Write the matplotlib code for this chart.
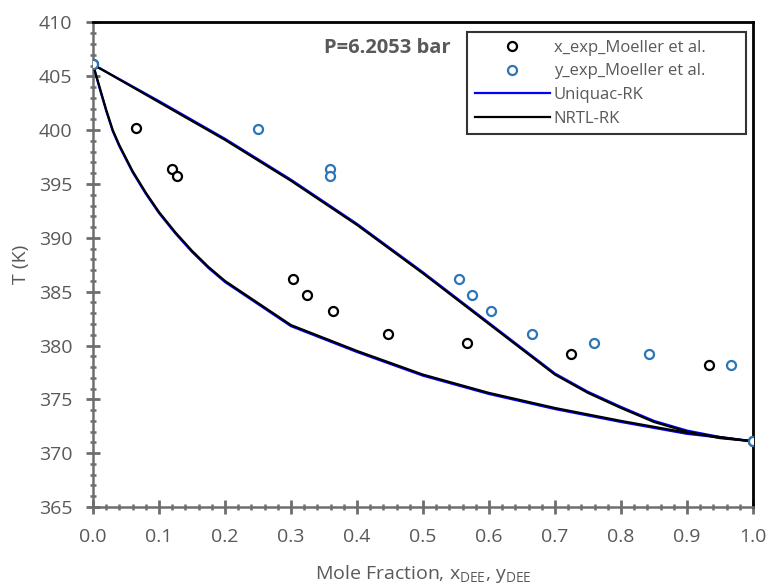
import matplotlib.pyplot as plt
from matplotlib.ticker import MultipleLocator

GRAY_TEXT = "#595959"
GRAY_AXIS = "#6E6E6E"
BLUE_PT = "#2E75B6"

plt.rcParams['font.family'] = ['Open Sans', 'DejaVu Sans']
plt.rcParams['mathtext.fontset'] = 'custom'
plt.rcParams['mathtext.rm'] = 'Open Sans'
plt.rcParams['mathtext.it'] = 'Open Sans'

# Excel-style ticks crossing the axis line (set before the axes exist)
for a in ["xtick", "ytick"]:
    plt.rcParams[a + ".direction"] = "inout"
    plt.rcParams[a + ".major.size"] = 10
    plt.rcParams[a + ".minor.size"] = 5
    plt.rcParams[a + ".major.width"] = 2
    plt.rcParams[a + ".minor.width"] = 1.8
    plt.rcParams[a + ".color"] = GRAY_AXIS
    plt.rcParams[a + ".labelcolor"] = GRAY_TEXT
    plt.rcParams[a + ".labelsize"] = 14
    plt.rcParams[a + ".major.pad"] = 10
    plt.rcParams[a + ".minor.visible"] = True

# --- experimental data (Moeller et al.) ---
x_exp = [0.0, 0.065, 0.120, 0.127, 0.303, 0.324, 0.363, 0.447, 0.566, 0.724, 0.934, 1.0]
T_x_exp = [406.1, 400.2, 396.4, 395.7, 386.2, 384.7, 383.2, 381.1, 380.2, 379.2, 378.2, 371.1]
y_exp = [0.0, 0.250, 0.359, 0.359, 0.555, 0.575, 0.603, 0.665, 0.759, 0.842, 0.967, 1.0]
T_y_exp = [406.1, 400.1, 396.4, 395.7, 386.2, 384.7, 383.2, 381.1, 380.2, 379.2, 378.2, 371.1]

# --- model curves ---
x_bub = [0.0, 0.01, 0.02, 0.03, 0.04, 0.06, 0.08, 0.10, 0.125, 0.15, 0.175, 0.20,
         0.30, 0.40, 0.50, 0.60, 0.70, 0.80, 0.90, 1.0]
T_bub_nrtl = [406.1, 404.0, 401.9, 400.0, 398.6, 396.2, 394.2, 392.4, 390.5, 388.8, 387.3, 386.0,
              381.9, 379.5, 377.3, 375.6, 374.2, 373.0, 371.9, 371.1]
T_bub_uniq = [406.1, 403.9, 401.8, 399.9, 398.5, 396.1, 394.1, 392.3, 390.4, 388.7, 387.2, 385.9,
              381.8, 379.4, 377.2, 375.5, 374.1, 372.9, 371.8, 371.1]

x_dew = [0.0, 0.1, 0.2, 0.3, 0.4, 0.5, 0.6, 0.7, 0.75, 0.8, 0.85, 0.9, 0.95, 1.0]
T_dew_nrtl = [406.1, 402.6, 399.1, 395.3, 391.2, 386.7, 382.0, 377.3, 375.6, 374.2, 372.9, 372.0, 371.4, 371.1]
T_dew_uniq = [406.1, 402.7, 399.2, 395.4, 391.3, 386.8, 382.1, 377.4, 375.7, 374.3, 373.0, 372.1, 371.5, 371.1]

fig = plt.figure(figsize=(7.69, 5.84), dpi=100)
ax = fig.add_axes([0.1209, 0.1318, 0.8582, 0.8297])

# model lines: Uniquac (blue) underneath, NRTL (black) on top
ax.plot(x_bub, T_bub_uniq, color="#0000FF", lw=1.6, zorder=2, label="Uniquac-RK")
ax.plot(x_dew, T_dew_uniq, color="#0000FF", lw=1.6, zorder=2)
ax.plot(x_bub, T_bub_nrtl, color="black", lw=1.6, zorder=3, label="NRTL-RK")
ax.plot(x_dew, T_dew_nrtl, color="black", lw=1.6, zorder=3)

# experimental points
ax.plot(x_exp, T_x_exp, ls="none", marker="o", ms=6.5, mfc="white", mec="black",
        mew=1.6, zorder=4, label="x_exp_Moeller et al.")
ax.plot(y_exp, T_y_exp, ls="none", marker="o", ms=6.5, mfc="white", mec=BLUE_PT,
        mew=1.6, zorder=5, label="y_exp_Moeller et al.")

ax.set_xlim(0, 1)
ax.set_ylim(365, 410)
ax.xaxis.set_major_locator(MultipleLocator(0.1))
ax.xaxis.set_minor_locator(MultipleLocator(0.02))
ax.yaxis.set_major_locator(MultipleLocator(5))
ax.yaxis.set_minor_locator(MultipleLocator(1))
ax.xaxis.set_major_formatter(plt.FormatStrFormatter("%.1f"))

for side in ["left", "bottom"]:
    ax.spines[side].set_color(GRAY_AXIS)
    ax.spines[side].set_linewidth(1.8)
for side in ["top", "right"]:
    ax.spines[side].set_color("black")
    ax.spines[side].set_linewidth(2)

ax.set_xlabel(r"Mole Fraction, x$_{\mathrm{DEE}}$, y$_{\mathrm{DEE}}$", fontsize=14,
              color=GRAY_TEXT, labelpad=12)
ax.set_ylabel("T (K)", fontsize=14, color=GRAY_TEXT, labelpad=6)

ax.text(0.446, 0.947, "P=6.2053 bar", transform=ax.transAxes, ha="center", va="center",
        fontsize=14.5, fontweight="bold", color=GRAY_TEXT)

handles, labels = ax.get_legend_handles_labels()
order = [2, 3, 0, 1]
leg = ax.legend([handles[i] for i in order], [labels[i] for i in order],
                loc="upper left", bbox_to_anchor=(0.567, 0.772, 0.422, 0.208),
                mode="expand", fontsize=12, frameon=True, fancybox=False,
                edgecolor="black", handlelength=4.5, handletextpad=0.25,
                labelspacing=0.46, borderpad=0.45, borderaxespad=0)
leg.get_frame().set_linewidth(1.5)
for t in leg.get_texts():
    t.set_color(GRAY_TEXT)

fig.savefig("out.png", dpi=100)
